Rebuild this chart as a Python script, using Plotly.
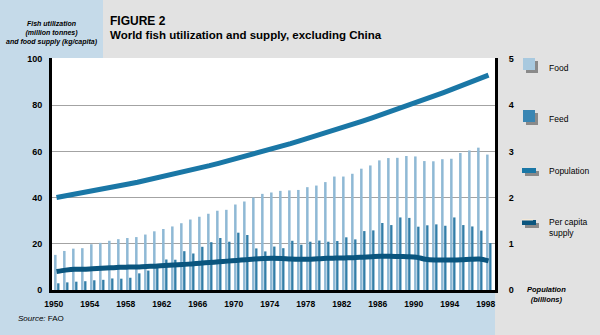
import plotly.graph_objects as go

# ---- data -------------------------------------------------------------
years = list(range(1950, 1999))

# fish utilization, million tonnes
food = [15.2, 16.9, 17.9, 18.1, 19.8, 20.4, 21.3, 22.0, 22.5, 22.9,
        24.0, 25.4, 26.4, 27.5, 28.9, 30.5, 31.7, 33.0, 34.3, 34.7,
        37.0, 38.3, 40.0, 41.6, 42.2, 42.9, 43.1, 43.3, 44.5, 45.2,
        46.7, 49.1, 49.1, 50.3, 52.5, 53.9, 56.1, 57.1, 57.2, 58.0,
        57.8, 55.8, 55.7, 56.6, 56.8, 59.3, 60.4, 61.6, 58.6]
feed = [2.9, 3.3, 3.6, 3.8, 4.2, 4.4, 5.0, 4.9, 5.3, 7.2,
        8.4, 10.0, 13.2, 13.1, 16.8, 15.8, 18.7, 20.7, 22.5, 20.9,
        24.8, 23.8, 18.0, 16.7, 18.8, 18.1, 21.3, 19.6, 20.9, 21.4,
        20.9, 21.2, 22.8, 21.9, 25.5, 25.8, 29.0, 28.1, 31.4, 31.2,
        27.4, 28.0, 28.4, 27.8, 31.4, 28.1, 27.5, 25.7, 20.3]

# population, billions (right axis)
population = [2.000, 2.033, 2.067, 2.102, 2.138, 2.175, 2.213, 2.252, 2.292, 2.332,
              2.374, 2.416, 2.460, 2.504, 2.550, 2.596, 2.643, 2.691, 2.741, 2.791,
              2.842, 2.894, 2.946, 3.000, 3.055, 3.111, 3.167, 3.225, 3.283, 3.342,
              3.403, 3.464, 3.526, 3.590, 3.654, 3.719, 3.785, 3.852, 3.920, 3.989,
              4.058, 4.129, 4.201, 4.273, 4.347, 4.421, 4.497, 4.573, 4.651]

# food supply, kg per capita
per_capita = [8.0, 8.6, 9.0, 9.0, 9.2, 9.4, 9.6, 9.8, 9.9, 10.0,
              10.2, 10.3, 10.6, 10.8, 11.0, 11.3, 11.6, 11.9, 12.2, 12.5,
              12.8, 13.1, 13.4, 13.6, 13.7, 13.6, 13.4, 13.3, 13.3, 13.5,
              13.7, 13.8, 13.9, 14.0, 14.2, 14.4, 14.6, 14.6, 14.5, 14.4,
              14.2, 13.3, 13.0, 13.0, 13.0, 13.1, 13.3, 13.4, 12.6]

tick_years = list(range(1950, 1999, 4))
left_ticks = [0, 20, 40, 60, 80, 100]
grid_values = [20, 40, 60, 80]
right_ticks = [0, 1, 2, 3, 4, 5]

# ---- styling ----------------------------------------------------------
FOOD_C = "#8fb9d5"
FEED_C = "#337ea8"
POP_C = "#1a77a6"
PCAP_C = "#0a557e"
PANEL_BLUE = "#c5dae9"
PANEL_GREY = "#e2e2e2"
FONT = "Liberation Sans, Arial, sans-serif"

W, H = 600, 335
ML, MR, MT, MB = 52, 105, 58, 45
PW, PH = W - ML - MR, H - MT - MB


def fx(x):
    """pixel column -> paper x"""
    return (x - ML) / PW


def fy(y):
    """pixel row -> paper y"""
    return (H - MB - y) / PH


fig = go.Figure()

fig.add_bar(x=years, y=food, offset=-0.27, width=0.28,
            marker=dict(color=FOOD_C, line=dict(width=0)), name="Food")
fig.add_bar(x=years, y=feed, offset=0.07, width=0.26,
            marker=dict(color=FEED_C, line=dict(width=0)), name="Feed")
fig.add_scatter(x=years, y=population, yaxis="y2", mode="lines",
                line=dict(color=POP_C, width=5), name="Population")
fig.add_scatter(x=years, y=per_capita, mode="lines",
                line=dict(color=PCAP_C, width=5, shape="spline", smoothing=0.8),
                name="Per capita supply")
# invisible trace carrying the horizontal grid axis
fig.add_scatter(x=[years[0]], y=[0], yaxis="y3", mode="markers",
                marker=dict(opacity=0), hoverinfo="skip", showlegend=False)

tickfont = dict(family=FONT, size=9, color="black", weight="bold")

fig.update_layout(
    width=W, height=H,
    margin=dict(l=ML, r=MR, t=MT, b=MB, pad=0),
    paper_bgcolor=PANEL_GREY,
    plot_bgcolor="white",
    barmode="overlay",
    showlegend=False,
    font=dict(family=FONT, color="black"),
    xaxis=dict(range=[1949.5, 1998.72], tickvals=[t - 0.3 for t in tick_years],
               ticktext=[str(t) for t in tick_years], ticks="",
               showgrid=False, zeroline=False, showline=True,
               linecolor="black", linewidth=3,
               tickfont=dict(family=FONT, size=8.5, color="black", weight="bold"),
               ticklabelstandoff=4),
    yaxis=dict(range=[0, 100.4], tickvals=left_ticks, ticks="",
               showgrid=False, zeroline=False, showline=True,
               linecolor="black", linewidth=3, tickfont=tickfont,
               ticklabelstandoff=5),
    yaxis2=dict(range=[0, 5.02], tickvals=right_ticks, ticks="",
                overlaying="y", side="right", showgrid=False, zeroline=False,
                showline=True, linecolor="black", linewidth=3,
                tickfont=tickfont, ticklabelstandoff=9),
    yaxis3=dict(range=[0, 100.4], tickvals=grid_values, overlaying="y",
                showticklabels=False, ticks="", showgrid=True,
                gridcolor="#a3a3a3", gridwidth=1, zeroline=False,
                showline=False),
)

# background panels
shapes = [
    dict(type="rect", x0=fx(0), x1=fx(103), y0=fy(0), y1=fy(MT),
         fillcolor=PANEL_BLUE),
    dict(type="rect", x0=fx(0), x1=fx(ML), y0=fy(MT), y1=fy(H),
         fillcolor=PANEL_BLUE),
    dict(type="rect", x0=fx(ML), x1=fx(W - MR), y0=fy(H - MB), y1=fy(H),
         fillcolor=PANEL_BLUE),
]
for s in shapes:
    s.update(xref="paper", yref="paper", layer="below", line=dict(width=0))

# legend swatches with drop shadows
SHADOW = "#8a8a8a"
swatches = [
    (523, 58, 535, 70, "#a8c9df"),
    (523, 110, 535, 122, "#3a86b3"),
    (522, 168, 536, 173, POP_C),
    (522, 220, 536, 225, PCAP_C),
]
for x0, y0, x1, y1, col in swatches:
    shapes.append(dict(type="rect", xref="paper", yref="paper",
                       x0=fx(x0 + 3), x1=fx(x1 + 3), y0=fy(y0 + 3), y1=fy(y1 + 3),
                       fillcolor=SHADOW, line=dict(width=0)))
    shapes.append(dict(type="rect", xref="paper", yref="paper",
                       x0=fx(x0), x1=fx(x1), y0=fy(y0), y1=fy(y1),
                       fillcolor=col, line=dict(width=0)))
shapes.append(dict(type="rect", xref="paper", yref="paper",
                   x0=fx(522), x1=fx(533), y0=fy(219), y1=fy(220.5),
                   fillcolor="#f4e9d8", line=dict(width=0)))
fig.update_layout(shapes=shapes)


def note(x, y, text, size, xanchor="left", align="left"):
    fig.add_annotation(x=fx(x), y=fy(y), xref="paper", yref="paper",
                       text=text, showarrow=False, xanchor=xanchor,
                       yanchor="middle", align=align,
                       font=dict(family=FONT, size=size, color="black"))


note(108, 21, "<b>FIGURE 2</b>", 12)
note(108, 35, "<b>World fish utilization and supply, excluding China</b>", 11.5)
note(52, 33, "<b><i>Fish utilization<br>(million tonnes)<br>and food supply (kg/capita)</i></b>",
     7, xanchor="center", align="center")
note(547, 68, "Food", 8.5)
note(547, 119, "Feed", 8.5)
note(547, 171, "Population", 8.5)
note(547, 227, "Per capita<br>supply", 8.5)
note(546, 294, "<b><i>Population<br>(billions)</i></b>", 7.5,
     xanchor="center", align="center")
note(16, 318, "<i>Source:</i> FAO", 8)

fig.write_html("out.html")
